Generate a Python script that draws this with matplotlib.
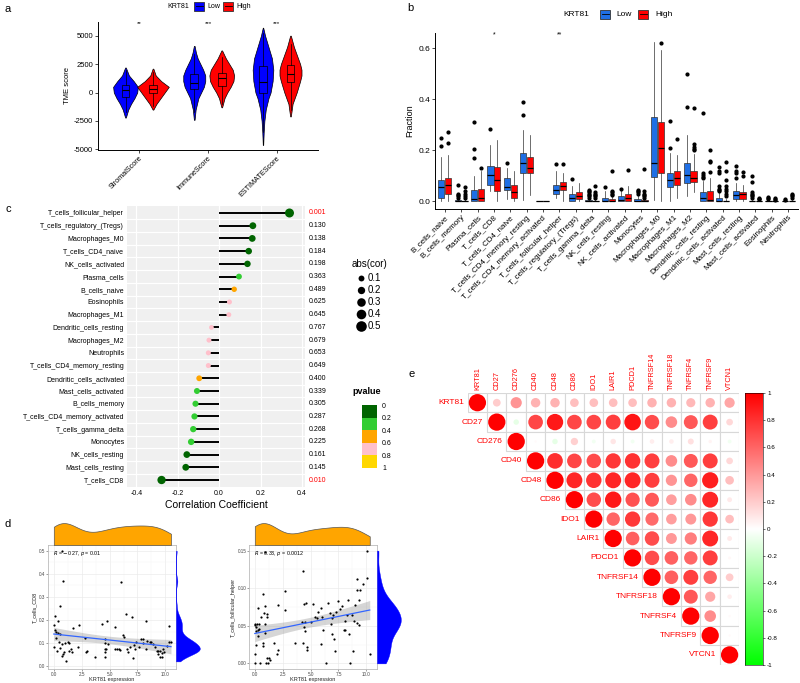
import numpy as np
import matplotlib
matplotlib.use("Agg")
import matplotlib.pyplot as plt
from matplotlib.patches import Rectangle, Circle
from matplotlib.colors import LinearSegmentedColormap

plt.rcParams['font.family'] = ['Liberation Sans', 'DejaVu Sans']

# ---------------- data: panel a (TME score violins) ----------------
tme_cats = ["StromalScore", "ImmuneScore", "ESTIMATEScore"]
tme_stars = ["**", "***", "***"]
# violin outlines: score levels and half widths
a_low_y = [[-2200, -1500, -1000, -500, 0, 500, 1000, 1500, 2200],
           [-2400, -1500, -500, 0, 500, 1000, 1500, 2000, 2500, 3000, 3500, 4100],
           [-4600, -3500, -2500, -1500, -500, 0, 1000, 2000, 3000, 4000, 5000, 5700]]
a_low_w = [[0.005, 0.04, 0.08, 0.13, 0.17, 0.18, 0.12, 0.05, 0.005],
           [0.005, 0.02, 0.06, 0.10, 0.14, 0.16, 0.16, 0.13, 0.09, 0.05, 0.025, 0.005],
           [0.003, 0.01, 0.02, 0.04, 0.08, 0.11, 0.14, 0.15, 0.13, 0.08, 0.03, 0.003]]
a_high_y = [[-1500, -1000, -500, 0, 500, 1000, 1500, 2100],
            [-1300, -500, 0, 500, 1000, 1500, 2000, 2500, 3000, 3700],
            [-2100, -1000, 0, 1000, 1500, 2000, 2500, 3000, 4000, 5000]]
a_high_w = [[0.005, 0.05, 0.11, 0.17, 0.23, 0.12, 0.04, 0.005],
            [0.005, 0.04, 0.08, 0.13, 0.17, 0.18, 0.16, 0.11, 0.06, 0.005],
            [0.005, 0.03, 0.09, 0.14, 0.16, 0.16, 0.14, 0.11, 0.05, 0.005]]
# whislo, q1, median, q3, whishi
a_low_box = [(-1700, -400, 250, 700, 2000), (-1700, 350, 850, 1600, 3400), (-3500, 0, 900, 2300, 5200)]
a_high_box = [(-1200, 0, 350, 700, 1800), (-1000, 600, 1300, 1700, 3100), (-1500, 900, 1600, 2400, 4300)]

# ---------------- data: panel b (CIBERSORT fractions) ----------------
cell_types = ["B_cells_naive", "B_cells_memory", "Plasma_cells", "T_cells_CD8", "T_cells_CD4_naive",
              "T_cells_CD4_memory_resting", "T_cells_CD4_memory_activated", "T_cells_follicular_helper",
              "T_cells_regulatory_(Tregs)", "T_cells_gamma_delta", "NK_cells_resting", "NK_cells_activated",
              "Monocytes", "Macrophages_M0", "Macrophages_M1", "Macrophages_M2", "Dendritic_cells_resting",
              "Dendritic_cells_activated", "Mast_cells_resting", "Mast_cells_activated", "Eosinophils",
              "Neutrophils"]
b_low_box = [(0, 0.012, 0.057, 0.084, 0.175), (0, 0, 0.001, 0.004, 0.01), (0, 0.002, 0.01, 0.044, 0.1),
             (0.04, 0.065, 0.105, 0.14, 0.22), (0.01, 0.045, 0.055, 0.09, 0.13), (0.005, 0.11, 0.152, 0.19, 0.28),
             (0, 0, 0, 0, 0), (0.015, 0.03, 0.045, 0.065, 0.12), (0, 0.003, 0.015, 0.03, 0.06),
             (0, 0, 0, 0.004, 0.01), (0, 0, 0.002, 0.015, 0.04), (0, 0, 0.005, 0.02, 0.045),
             (0, 0, 0.003, 0.01, 0.025), (0.005, 0.095, 0.15, 0.33, 0.625), (0, 0.055, 0.083, 0.11, 0.19),
             (0.02, 0.07, 0.105, 0.15, 0.26), (0, 0, 0.012, 0.035, 0.08), (0, 0, 0.002, 0.015, 0.035),
             (0, 0.008, 0.025, 0.04, 0.07), (0, 0, 0, 0.002, 0.005), (0, 0, 0, 0.001, 0.002),
             (0, 0, 0, 0.001, 0.002)]
b_low_out = [[0.247, 0.218], [0.065, 0.03, 0.025, 0.02, 0.015], [0.31, 0.205, 0.17], [0.282], [0.15],
             [0.39, 0.34], [], [0.147], [0.087], [0.045, 0.04, 0.035, 0.03, 0.025, 0.02, 0.015], [0.055],
             [0.05], [0.045, 0.04, 0.035, 0.03], [], [0.315, 0.21], [0.5, 0.37],
             [0.345, 0.11, 0.105, 0.095, 0.09], [0.135, 0.12, 0.11, 0.06, 0.05, 0.045, 0.04],
             [0.14, 0.12, 0.11, 0.09], [0.1, 0.075, 0.035, 0.03, 0.025, 0.02, 0.015], [0.018, 0.012, 0.008],
             [0.01, 0.006]]
b_high_box = [(0, 0.029, 0.064, 0.093, 0.18), (0, 0, 0.001, 0.003, 0.008), (0, 0.003, 0.015, 0.05, 0.12),
              (0, 0.04, 0.085, 0.135, 0.24), (0, 0.015, 0.038, 0.065, 0.12), (0.025, 0.11, 0.13, 0.172, 0.26),
              (0, 0, 0, 0, 0), (0, 0.045, 0.06, 0.075, 0.11), (0, 0.01, 0.02, 0.038, 0.07),
              (0, 0, 0, 0.003, 0.008), (0, 0, 0.001, 0.008, 0.02), (0, 0, 0.012, 0.03, 0.06),
              (0, 0, 0.001, 0.005, 0.012), (0, 0.11, 0.21, 0.31, 0.595), (0.015, 0.065, 0.09, 0.12, 0.18),
              (0.035, 0.075, 0.09, 0.12, 0.185), (0, 0, 0.005, 0.04, 0.09), (0, 0, 0, 0.003, 0.008),
              (0, 0.01, 0.027, 0.035, 0.065), (0, 0, 0, 0.001, 0.003), (0, 0, 0, 0.001, 0.002),
              (0, 0, 0, 0.002, 0.004)]
b_high_out = [[0.273, 0.23], [0.055, 0.04, 0.03, 0.02, 0.015], [0.13], [], [], [], [], [0.148], [],
              [0.06, 0.035, 0.03, 0.025, 0.02, 0.015], [0.12, 0.04, 0.035, 0.03, 0.025], [0.122],
              [0.128, 0.04, 0.03, 0.025, 0.02, 0.015], [0.62], [0.245], [0.365, 0.225, 0.215, 0.205, 0.2],
              [0.2, 0.16, 0.155, 0.115], [0.155, 0.12, 0.085, 0.06, 0.05, 0.04, 0.03, 0.02], [0.115, 0.1],
              [0.015, 0.01, 0.008], [0.012, 0.008, 0.005], [0.03, 0.025, 0.02, 0.015]]
b_stars = {"T_cells_CD8": "*", "T_cells_follicular_helper": "**"}

# ---------------- data: panel c (lollipop) ----------------
c_cells = ["T_cells_follicular_helper", "T_cells_regulatory_(Tregs)", "Macrophages_M0", "T_cells_CD4_naive",
           "NK_cells_activated", "Plasma_cells", "B_cells_naive", "Eosinophils", "Macrophages_M1",
           "Dendritic_cells_resting", "Macrophages_M2", "Neutrophils", "T_cells_CD4_memory_resting",
           "Dendritic_cells_activated", "Mast_cells_activated", "B_cells_memory", "T_cells_CD4_memory_activated",
           "T_cells_gamma_delta", "Monocytes", "NK_cells_resting", "Mast_cells_resting", "T_cells_CD8"]
c_cor = [0.34, 0.163, 0.16, 0.143, 0.137, 0.096, 0.073, 0.05, 0.047, -0.037, -0.049, -0.052, -0.052,
         -0.096, -0.107, -0.114, -0.119, -0.125, -0.135, -0.156, -0.161, -0.278]
c_p = [0.001, 0.130, 0.138, 0.184, 0.198, 0.363, 0.489, 0.625, 0.645, 0.767, 0.679, 0.653, 0.649,
       0.400, 0.339, 0.305, 0.287, 0.268, 0.225, 0.161, 0.145, 0.010]
p_colors = ["#006400", "#32CD32", "#FFA500", "#FFC0CB", "#FFD700"]
size_levels = [0.1, 0.2, 0.3, 0.4, 0.5]

# ---------------- data: panel d (scatter) ----------------
d1_x = [0.76, 0.82, 0.6, 0.1, 0.4, 0.0, 0.15, 0.24, 0.4, 0.58, 0.2, 0.45, 0.03, 0.3, 0.6, 0.7, 0.8, 0.9,
        0.76, 1.0, 1.1, 1.3, 1.4, 1.5, 1.6, 1.36, 1.76, 2.2, 2.27, 2.8, 2.9, 3.0, 3.7, 4.3, 4.55, 4.6, 4.6,
        4.55, 4.6, 4.8, 4.7, 4.85, 5.45, 5.5, 5.7, 5.85, 5.97, 6.06, 6.2, 6.3, 6.5, 6.6, 6.67, 6.8, 7.05,
        7.1, 7.18, 7.27, 7.4, 7.6, 7.8, 8.0, 8.0, 8.27, 8.24, 8.33, 8.58, 8.7, 8.88, 9.1, 9.24, 9.33, 9.5,
        9.55, 9.7, 9.8, 10.3, 10.3, 10.5, 10.15, 9.3, 9.7, 9.85]
d1_y = [0.5, 0.37, 0.26, 0.217, 0.198, 0.18, 0.155, 0.147, 0.144, 0.141, 0.123, 0.106, 0.085, 0.066, 0.08,
        0.097, 0.052, 0.062, 0.045, 0.1, 0.021, 0.105, 0.066, 0.076, 0.062, 0.102, 0.165, 0.085, 0.18, 0.123,
        0.06, 0.066, 0.038, 0.182, 0.102, 0.116, 0.076, 0.06, 0.041, 0.196, 0.073, 0.095, 0.168, 0.076, 0.073,
        0.073, 0.071, 0.366, 0.137, 0.126, 0.225, 0.076, 0.06, 0.083, 0.212, 0.034, 0.09, 0.073, 0.105, 0.085,
        0.12, 0.119, 0.102, 0.198, 0.076, 0.109, 0.105, 0.105, 0.095, 0.085, 0.066, 0.052, 0.038, 0.066,
        0.056, 0.073, 0.175, 0.106, 0.106, 0.088, 0.065, 0.042, 0.062]
d2_x = [0.9, 4.35, 10.05, 9.2, 10.05, 9.15, 9.45, 9.7, 9.3, 9.0, 0.75, 2.7, 0.3, 0.9, 2.1, 2.7, 0.54, 0.81,
        1.05, 1.1, 4.45, 4.6, 5.25, 5.9, 5.7, 5.35, 5.55, 6.0, 6.55, 6.75, 6.9, 7.05, 7.3, 7.5, 7.65, 7.8,
        8.1, 8.25, 8.35, 8.7, 6.8, 8.1, 8.4, 8.85, 9.2, 9.3, 0.0, 0.05, 0.15, 0.3, 0.15, 0.2, 0.4, 0.36, 0.3,
        0.9, 0.9, 0.1, 0.06, 0.75, 0.75, 1.7, 2.0, 2.1, 1.1, 1.3, 1.35, 0.0, 0.5, 0.96, 1.2, 3.6, 4.35, 4.4,
        4.5, 4.65, 4.7, 4.5, 5.9, 6.15, 6.4, 6.9, 7.1, 7.2, 7.95, 8.5, 8.8, 10.3, 5.0, 4.25]
d2_y = [0.148, 0.123, 0.15, 0.112, 0.114, 0.097, 0.097, 0.105, 0.084, 0.077, 0.092, 0.096, 0.074, 0.076,
        0.077, 0.071, 0.062, 0.067, 0.066, 0.062, 0.079, 0.080, 0.079, 0.074, 0.068, 0.062, 0.061, 0.062,
        0.080, 0.067, 0.061, 0.065, 0.068, 0.083, 0.073, 0.076, 0.056, 0.065, 0.084, 0.065, 0.052, 0.045,
        0.039, 0.056, 0.054, 0.051, 0.051, 0.053, 0.048, 0.044, 0.043, 0.052, 0.053, 0.046, 0.036, 0.053,
        0.041, 0.025, 0.013, 0.027, 0.023, 0.027, 0.013, 0.018, 0.007, 0.007, 0.004, 0.0, 0.0, 0.0, 0.0,
        0.027, 0.027, 0.049, 0.043, 0.018, 0.022, 0.055, 0.026, 0.045, 0.0, 0.039, 0.033, 0.017, 0.045, 0.0,
        0.017, 0.013, 0.055, 0.055]
d1_label = r"$R$ = $-$0.27, $p$ = 0.01"
d2_label = r"$R$ = 0.33, $p$ = 0.0012"

# ---------------- data: panel e (checkpoint correlation) ----------------
e_genes = ["KRT81", "CD27", "CD276", "CD40", "CD48", "CD86", "IDO1", "LAIR1", "PDCD1", "TNFRSF14",
           "TNFRSF18", "TNFRSF4", "TNFRSF9", "VTCN1"]
e_upper = [[0.20, 0.42, 0.30, 0.30, 0.25, 0.25, 0.25, 0.25, 0.30, 0.30, 0.28, 0.30, 0.35],
           [-0.10, 0.72, 0.90, 0.72, 0.72, 0.75, 0.92, 0.70, 0.45, 0.65, 0.75, 0.15],
           [0.02, -0.10, 0.18, -0.05, 0.10, -0.05, 0.07, 0.07, 0.12, 0.04, -0.05],
           [0.82, 0.72, 0.70, 0.78, 0.80, 0.75, 0.45, 0.65, 0.75, 0.15],
           [0.85, 0.80, 0.85, 0.85, 0.75, 0.42, 0.60, 0.88, 0.25],
           [0.70, 0.90, 0.68, 0.65, 0.38, 0.45, 0.85, 0.08],
           [0.60, 0.78, 0.58, 0.38, 0.40, 0.78, 0.25],
           [0.62, 0.70, 0.40, 0.50, 0.85, 0.08],
           [0.70, 0.62, 0.60, 0.75, 0.03],
           [0.62, 0.75, 0.60, 0.20],
           [0.65, 0.35, 0.07],
           [0.45, 0.02],
           [0.02],
           []]

W, H = 800, 683
fig = plt.figure(figsize=(8, 6.83), dpi=100)


def px(l, t, r, b):
    return [l / W, 1 - b / H, (r - l) / W, (b - t) / H]


def classic(ax, fs):
    for s in ["top", "right"]:
        ax.spines[s].set_visible(False)
    for s in ["left", "bottom"]:
        ax.spines[s].set_linewidth(0.7)
    ax.tick_params(labelsize=fs, length=2, width=0.5, pad=1.5)


def stat_box(s):
    return dict(whislo=s[0], q1=s[1], med=s[2], q3=s[3], whishi=s[4])


###--- a ---###
axa = fig.add_axes(px(98, 22, 318, 150))
classic(axa, 5.5)
pos = np.arange(1, len(tme_cats) + 1)
for i in range(len(tme_cats)):
    for yv, wv, off, col, box in [(a_low_y[i], a_low_w[i], -0.2, "#0000FF", a_low_box[i]),
                                  (a_high_y[i], a_high_w[i], 0.2, "#FF0000", a_high_box[i])]:
        c = pos[i] + off
        w = np.array(wv)
        axa.fill_betweenx(yv, c - w, c + w, facecolor=col, edgecolor="black", lw=0.5)
        axa.bxp([stat_box(box)], positions=[c], widths=0.11, patch_artist=True, showfliers=False,
                showcaps=False, manage_ticks=False,
                boxprops=dict(facecolor=col, edgecolor="black", lw=0.5),
                whiskerprops=dict(lw=0.5), medianprops=dict(color="black", lw=0.8))
    axa.text(pos[i], 6050, tme_stars[i], ha="center", va="center", fontsize=4.5)
axa.set_xlim(0.4, 3.6)
axa.set_ylim(-5050, 6200)
axa.set_yticks([-5000, -2500, 0, 2500, 5000])
axa.set_yticklabels(["-5000", "-2500", "0", "2500", "5000"])
axa.set_xticks(pos)
axa.set_xticklabels(tme_cats, rotation=45, ha="right", rotation_mode="anchor", fontsize=5.2)
axa.set_ylabel("TME score", fontsize=5.5, labelpad=2)

###--- b ---###
axb = fig.add_axes(px(435, 33, 798, 209))
classic(axb, 6)
bpos = np.arange(1, len(cell_types) + 1)
for i in range(len(cell_types)):
    for box, out, off, col in [(b_low_box[i], b_low_out[i], -0.21, "#1F6FE5"),
                               (b_high_box[i], b_high_out[i], 0.21, "#FF0000")]:
        d = stat_box(box)
        d["fliers"] = out
        axb.bxp([d], positions=[bpos[i] + off], widths=0.38, patch_artist=True, showcaps=False,
                manage_ticks=False,
                boxprops=dict(facecolor=col, edgecolor="#333333", lw=0.5),
                whiskerprops=dict(lw=0.5, color="#333333"), medianprops=dict(color="black", lw=0.9),
                flierprops=dict(marker="o", markerfacecolor="black", markeredgecolor="black",
                                markersize=2.0))
    if cell_types[i] in b_stars:
        axb.text(bpos[i], 0.652, b_stars[cell_types[i]], ha="center", va="center", fontsize=5)
axb.set_xlim(0.4, len(cell_types) + 0.6)
axb.set_ylim(-0.03, 0.66)
axb.set_yticks([0.0, 0.2, 0.4, 0.6])
axb.set_yticklabels(["0.0", "0.2", "0.4", "0.6"])
axb.set_xticks(bpos)
axb.set_xticklabels(cell_types, rotation=45, ha="right", rotation_mode="anchor", fontsize=5.8)
axb.set_ylabel("Fraction", fontsize=6.5, labelpad=3)

###--- c ---###
axc = fig.add_axes(px(127, 206, 305, 487))
axc.set_facecolor("#F0F0F0")
for s in axc.spines.values():
    s.set_visible(False)
yy = np.arange(len(c_cells))
for xt in [-0.4, -0.2, 0.0, 0.2, 0.4]:
    axc.axvline(xt, color="white", lw=0.9, zorder=0)
for yb in yy[:-1] + 0.5:
    axc.axhline(yb, color="white", lw=0.9, zorder=0)
cor = np.array(c_cor)
axc.hlines(yy, 0, cor, color="black", lw=1.4, zorder=2)
dot_col = [p_colors[min(int(p / 0.2), 4)] for p in c_p]
axc.scatter(cor, yy, s=8 + 100 * np.abs(cor), c=dot_col, zorder=3, linewidths=0)
for i, p in enumerate(c_p):
    axc.text(1.02, yy[i], "%.3f" % p, transform=axc.get_yaxis_transform(), va="center", ha="left",
             fontsize=5, color="red" if p < 0.05 else "black")
axc.set_xlim(-0.445, 0.415)
axc.set_ylim(len(c_cells) - 0.45, -0.55)
axc.set_yticks(yy)
axc.set_yticklabels(c_cells)
axc.set_xticks([-0.4, -0.2, 0.0, 0.2, 0.4])
axc.set_xticklabels(["-0.4", "-0.2", "0.0", "0.2", "0.4"])
axc.tick_params(labelsize=5, length=0, pad=2)
axc.set_xlabel("Correlation Coefficient", fontsize=7.5, labelpad=2)


###--- d ---###
def kde(v, grid):
    v = np.asarray(v)
    n = len(v)
    q75, q25 = np.percentile(v, [75, 25])
    bw = 0.9 * min(v.std(ddof=1), (q75 - q25) / 1.34) * n ** -0.2
    return np.exp(-0.5 * ((grid[:, None] - v[None, :]) / bw) ** 2).sum(1) / (n * bw * np.sqrt(2 * np.pi))


def scatter_panel(x, y, l, ylim, yticks, ylabels, ylab, label):
    x = np.asarray(x)
    y = np.asarray(y)
    ax = fig.add_axes(px(l, 545, l + 128, 669))
    ax.scatter(x, y, s=2.5, c="black", linewidths=0, zorder=3)
    k, b0 = np.polyfit(x, y, 1)
    xs = np.linspace(x.min(), x.max(), 80)
    fit = k * xs + b0
    n = len(x)
    resid = y - (k * x + b0)
    s = np.sqrt((resid ** 2).sum() / (n - 2))
    se = s * np.sqrt(1 / n + (xs - x.mean()) ** 2 / ((x - x.mean()) ** 2).sum())
    ax.fill_between(xs, fit - 1.98 * se, fit + 1.98 * se, color="#999999", alpha=0.4, lw=0, zorder=2)
    ax.plot(xs, fit, color="#3366FF", lw=0.9, zorder=4)
    ax.set_xlim(-0.52, 10.95)
    ax.set_ylim(*ylim)
    ax.set_xticks([0, 2.5, 5, 7.5, 10])
    ax.set_xticklabels(["0.0", "2.5", "5.0", "7.5", "10.0"])
    ax.set_xticks([1.25, 3.75, 6.25, 8.75], minor=True)
    ax.set_yticks(yticks)
    ax.set_yticklabels(ylabels)
    ax.set_yticks(np.array(yticks[:-1]) + (yticks[1] - yticks[0]) / 2, minor=True)
    ax.grid(True, which="major", color="#EBEBEB", lw=0.5)
    ax.grid(True, which="minor", color="#F4F4F4", lw=0.3)
    ax.set_axisbelow(True)
    for sp in ax.spines.values():
        sp.set_color("#BBBBBB")
        sp.set_linewidth(0.6)
    ax.tick_params(which="both", labelsize=3.3, length=1.2, width=0.4, pad=0.6, color="#555555",
                   labelcolor="#444444")
    ax.tick_params(which="minor", length=0)
    ax.set_xlabel("KRT81 expression", fontsize=4, labelpad=0.3, color="#222222")
    ax.set_ylabel(ylab, fontsize=4, labelpad=1, color="#222222")
    ax.text(0.04, 0.93, label, transform=ax.transAxes, fontsize=3.8, va="center")

    top = fig.add_axes(px(l, 522, l + 128, 545))
    gx = np.linspace(x.min(), x.max(), 200)
    dx = kde(x, gx)
    top.fill_between(gx, 0, dx, facecolor="#FFA500", edgecolor="#555555", lw=0.5)
    top.set_xlim(-0.52, 10.95)
    top.set_ylim(0, dx.max() * 1.05)
    top.axis("off")

    right = fig.add_axes(px(l + 128, 545, l + 153, 669))
    gy = np.linspace(y.min(), y.max(), 200)
    dy = kde(y, gy)
    right.fill_betweenx(gy, 0, dy, facecolor="#0000FF", edgecolor="#0000FF", lw=0.3)
    right.set_ylim(*ylim)
    right.set_xlim(0, dy.max() * 1.05)
    right.axis("off")


scatter_panel(d1_x, d1_y, 48, (-0.012, 0.525), [0.0, 0.1, 0.2, 0.3, 0.4, 0.5],
              ["0.0", "0.1", "0.2", "0.3", "0.4", "0.5"], "T_cells_CD8", d1_label)
scatter_panel(d2_x, d2_y, 249, (-0.0075, 0.1575), [0.0, 0.05, 0.10, 0.15],
              ["0.00", "0.05", "0.10", "0.15"], "T_cells_follicular_helper", d2_label)

###--- e ---###
cmap = LinearSegmentedColormap.from_list("gwr", ["#00FF00", "#FFFFFF", "#FF0000"])
axe = fig.add_axes(px(467.7, 393, 739.3, 664.6))
ng = len(e_genes)
axe.set_xlim(0, ng)
axe.set_ylim(ng, 0)
axe.axis("off")
for i in range(ng):
    row = [1.0] + e_upper[i]
    for k, r in enumerate(row):
        j = i + k
        axe.add_patch(Rectangle((j, i), 1, 1, facecolor="white", edgecolor="#D8D8D8", lw=0.8, zorder=1))
        axe.add_patch(Circle((j + 0.5, i + 0.5), 0.445 * np.sqrt(abs(r)),
                             facecolor=cmap((r + 1) / 2), edgecolor="none", zorder=2))
    axe.text(i - 0.2, i + 0.5, e_genes[i], ha="right", va="center", fontsize=6, color="#FF0000")
    axe.text(i + 0.5, -0.15, e_genes[i], ha="center", va="bottom", rotation=90, fontsize=5.3,
             color="#FF0000")
cax = fig.add_axes(px(745, 393, 763, 665))
cax.imshow(np.linspace(1, -1, 256)[:, None], cmap=cmap, vmin=-1, vmax=1, aspect="auto",
           extent=[0, 1, -1, 1])
cax.set_xticks([])
cax.yaxis.tick_right()
cbt = np.round(np.linspace(-1, 1, 11), 1)
cax.set_yticks(cbt)
cax.set_yticklabels(["%g" % v for v in cbt])
cax.tick_params(labelsize=4.5, length=1.5, width=0.4, pad=1.5)
for sp in cax.spines.values():
    sp.set_linewidth(0.4)

###--- overlay: panel letters and legends ---###
ov = fig.add_axes([0, 0, 1, 1])
ov.set_xlim(0, W)
ov.set_ylim(H, 0)
ov.axis("off")
for lab, lx, ly in [("a", 8, 9), ("b", 410, 8), ("c", 8, 209), ("d", 8, 524), ("e", 412, 374)]:
    ov.text(lx, ly, lab, fontsize=8, ha="center", va="center")


def key(x0, y0, col):
    ov.add_patch(Rectangle((x0, y0 - 4.5), 10, 9, facecolor=col, edgecolor="#333333", lw=0.6))
    ov.plot([x0 + 1.5, x0 + 8.5], [y0, y0], color="black", lw=0.6)


ov.text(167, 6, "KRT81", fontsize=5, va="center")
key(194, 6, "#0000FF")
ov.text(207, 6, "Low", fontsize=5, va="center")
key(223, 6, "#FF0000")
ov.text(236, 6, "High", fontsize=5, va="center")

ov.text(563, 14, "KRT81", fontsize=6, va="center")
key(600, 14, "#1F6FE5")
ov.text(616, 14, "Low", fontsize=6, va="center")
key(638, 14, "#FF0000")
ov.text(655, 14, "High", fontsize=6, va="center")

ov.text(352, 264, "abs(cor)", fontsize=7, va="center")
for k, v in enumerate(size_levels):
    ov.scatter([361], [278 + 12 * k], s=8 + 100 * v, c="black", linewidths=0)
    ov.text(368, 278 + 12 * k, "%g" % v, fontsize=7, va="center")

ov.text(352, 391, "pvalue", fontsize=6.5, va="center", fontweight="bold")
for k, col in enumerate(p_colors):
    ov.add_patch(Rectangle((362, 405 + 12.6 * k), 15, 12.6, facecolor=col, edgecolor="none"))
for k, v in enumerate(["0", "0.2", "0.4", "0.6", "0.8", "1"]):
    ov.text(382, 406 + 12.6 * k, v, fontsize=5, va="center")

fig.savefig("out.png", dpi=100)
